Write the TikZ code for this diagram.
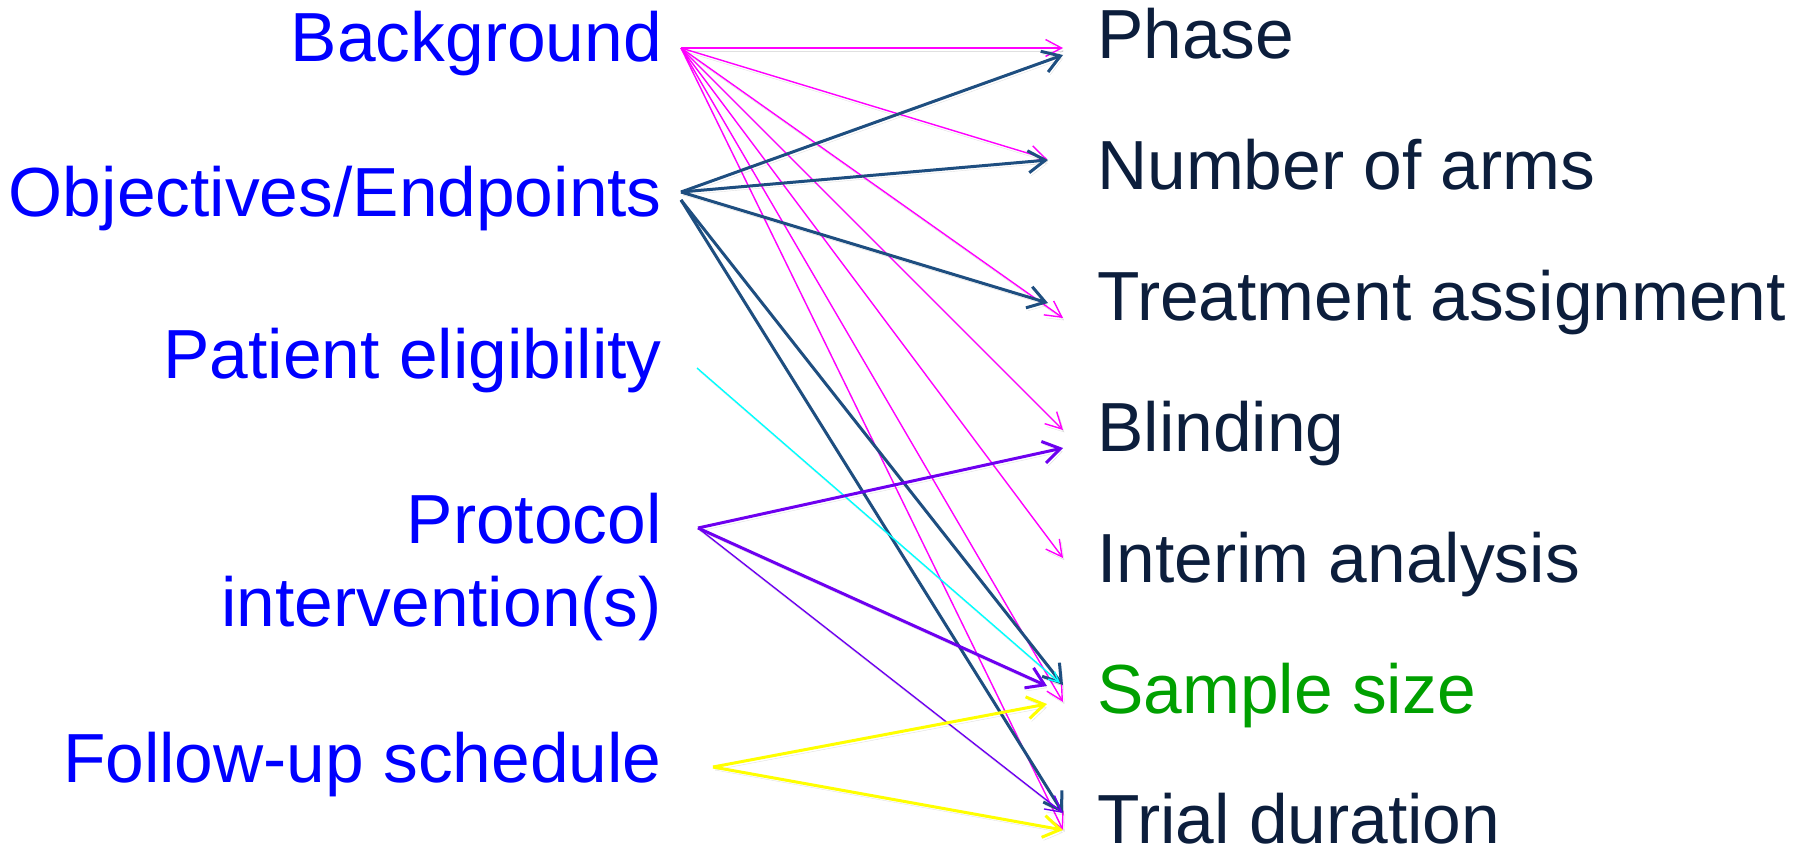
\documentclass[tikz,border=0pt]{standalone}
\usepackage{fontspec}
\setmainfont{Liberation Sans}
\usetikzlibrary{arrows.meta}
\definecolor{leftblue}{RGB}{0,0,255}
\definecolor{rightnavy}{RGB}{12,30,60}
\definecolor{sizegreen}{RGB}{0,160,0}
\definecolor{amag}{RGB}{255,0,255}
\definecolor{adark}{RGB}{30,78,128}
\definecolor{apurple}{RGB}{110,0,240}
\definecolor{acyan}{RGB}{0,255,255}
\definecolor{ayellow}{RGB}{255,255,0}
\tikzset{
  lefttext/.style={anchor=base east, inner sep=0pt, text=leftblue, font=\fontsize{69.5}{83}\selectfont, align=right},
  righttext/.style={anchor=base west, inner sep=0pt, text=rightnavy, font=\fontsize{69.5}{83}\selectfont},
  shadowed/.style={preaction={draw=black, opacity=0.12, transform canvas={shift={(2,3)}}}},
  thinarrow/.style={shadowed, line width=1.4pt, -{Straight Barb[length=16pt,width=17pt]}},
  thickarrow/.style={shadowed, line width=3pt, -{Straight Barb[length=17pt,width=22pt]}},
}
\begin{document}
\begin{tikzpicture}[x=1pt,y=-1pt]
\useasboundingbox[fill=white] (0,0) rectangle (1798,849);
% left labels
\node[lefttext] (bg) at (662,61) {Background};
\node[lefttext] (obj) at (662,216) {Objectives/Endpoints};
\node[lefttext] (pat) at (662,378) {Patient eligibility};
\node[lefttext] (prot) at (662,626) {Protocol\\intervention(s)};
\node[lefttext] (fol) at (662,782) {Follow-up schedule};
% right labels
\node[righttext] (phase) at (1097,58) {Phase};
\node[righttext] (arms) at (1097,189) {Number of arms};
\node[righttext] (treat) at (1097,320) {Treatment assignment};
\node[righttext] (blind) at (1097,451) {Blinding};
\node[righttext] (interim) at (1097,582) {Interim analysis};
\node[righttext, text=sizegreen] (size) at (1097,713) {Sample size};
\node[righttext, text depth=0pt] (dur) at (1097,843) {Trial duration};
% source points
\coordinate (sB) at (681,48);
\coordinate (sO) at (681,192);
\coordinate (sO2) at (681,200);
\coordinate (sE) at (697,368);
\coordinate (sP) at (698,528);
\coordinate (sF) at (713,767);
% target points
\coordinate (tPhA) at (1063,48);
\coordinate (tPhB) at (1063,55);
\coordinate (tArA) at (1047,159);
\coordinate (tArB) at (1048,160);
\coordinate (tTrA) at (1063,318);
\coordinate (tTrB) at (1048,303);
\coordinate (tBlA) at (1063,430);
\coordinate (tBlB) at (1063,448);
\coordinate (tInA) at (1063,558);
\coordinate (tSzA) at (1063,702);
\coordinate (tSzB) at (1063,685);
\coordinate (tSzC) at (1047,686);
\coordinate (tSzD) at (1060,683);
\coordinate (tSzE) at (1047,704);
\coordinate (tDuA) at (1063,830);
\coordinate (tDuB) at (1063,813);
% background (magenta)
\draw[thinarrow, amag] (sB) -- (tPhA);
\draw[thinarrow, amag] (sB) -- (tArA);
\draw[thinarrow, amag] (sB) -- (tTrA);
\draw[thinarrow, amag] (sB) -- (tBlA);
\draw[thinarrow, amag] (sB) -- (tInA);
\draw[thinarrow, amag] (sB) -- (tSzA);
\draw[thinarrow, amag] (sB) -- (tDuA);
% objectives (dark blue)
\draw[thickarrow, adark] (sO) -- (tPhB);
\draw[thickarrow, adark] (sO) -- (tArB);
\draw[thickarrow, adark] (sO) -- (tTrB);
\draw[thickarrow, adark] (sO2) -- (tSzB);
\draw[thickarrow, adark] (sO2) -- (tDuB);
% patient eligibility (cyan)
\draw[shadowed, line width=1.4pt, acyan, -{Straight Barb[length=10pt,width=10pt]}] (sE) -- (tSzD);
% protocol (purple)
\draw[thickarrow, apurple] (sP) -- (tBlB);
\draw[thickarrow, apurple] (sP) -- (tSzC);
\draw[thinarrow, apurple] (sP) -- (tDuB);
% follow-up (yellow)
\draw[thickarrow, ayellow] (sF) -- (tSzE);
\draw[thickarrow, ayellow] (sF) -- (tDuA);
\end{tikzpicture}
\end{document}
